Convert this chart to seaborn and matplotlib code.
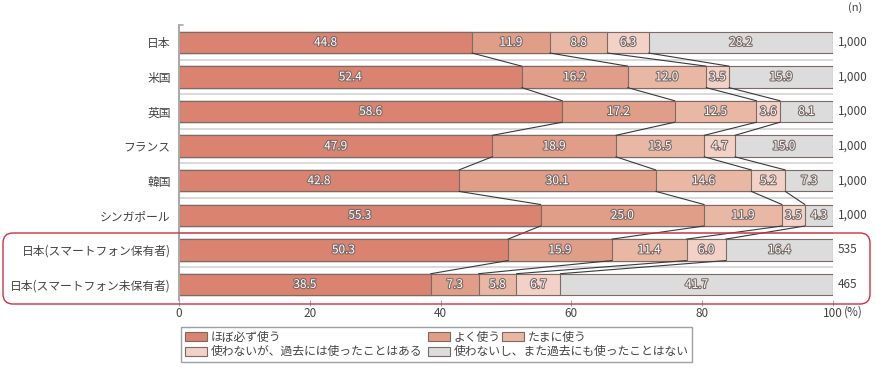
import numpy as np
import pandas as pd
import matplotlib
matplotlib.use("Agg")
import matplotlib.pyplot as plt
import matplotlib.patheffects as pe
from matplotlib.patches import FancyBboxPatch, Patch
import seaborn as sns

countries = ["日本", "米国", "英国", "フランス", "韓国", "シンガポール",
             "日本(スマートフォン保有者)", "日本(スマートフォン未保有者)"]
series = ["ほぼ必ず使う", "よく使う", "たまに使う",
          "使わないが、過去には使ったことはある", "使わないし、また過去にも使ったことはない"]
almost_always = [44.8, 52.4, 58.6, 47.9, 42.8, 55.3, 50.3, 38.5]
often = [11.9, 16.2, 17.2, 18.9, 30.1, 25.0, 15.9, 7.3]
sometimes = [8.8, 12.0, 12.5, 13.5, 14.6, 11.9, 11.4, 5.8]
used_before = [6.3, 3.5, 3.6, 4.7, 5.2, 3.5, 6.0, 6.7]
never = [28.2, 15.9, 8.1, 15.0, 7.3, 4.3, 16.4, 41.7]
n_values = ["1,000", "1,000", "1,000", "1,000", "1,000", "1,000", "535", "465"]
colors = ["#d98370", "#e09d88", "#e9b8a5", "#f2d2c6", "#dcdcdc"]

sns.set_style("white")
plt.rcParams["font.family"] = ["Noto Sans CJK JP", "DejaVu Sans"]

values = np.array([almost_always, often, sometimes, used_before, never]).T
cum = values.cumsum(axis=1)
df = pd.DataFrame(cum, columns=series)
df["country"] = countries

fig = plt.figure(figsize=(8.76, 3.67), dpi=100)
ax = fig.add_axes([179 / 876, 1 - 300 / 367, 654 / 876, 275 / 367])

bar_h = 0.62
edge = "#7d6a64"
for k in range(len(series) - 1, -1, -1):
    sns.barplot(data=df, x=series[k], y="country", color=colors[k], width=bar_h,
                edgecolor=edge, linewidth=0.8, saturation=1, ax=ax, orient="h")

# separators between rows
for i in range(len(countries) - 1):
    ax.axhline(i + 0.5, color="#d3d3d3", lw=1.2, zorder=0.5)

# series lines
for i in range(len(countries) - 1):
    for k in range(len(series) - 1):
        ax.plot([cum[i, k], cum[i + 1, k]], [i + bar_h / 2, i + 1 - bar_h / 2],
                color="#3a3a3a", lw=0.8, zorder=3)

# value labels
stroke = [pe.withStroke(linewidth=1.6, foreground="#7a6a66")]
for i in range(len(countries)):
    for k in range(len(series)):
        x = cum[i, k] - values[i, k] / 2
        ax.text(x, i, f"{values[i, k]:.1f}", ha="center", va="center",
                fontsize=8.5, color="white", path_effects=stroke, zorder=4)
    ax.text(1.0076, i, n_values[i], transform=ax.get_yaxis_transform(),
            ha="left", va="center", fontsize=8.5, color="#444444")
ax.text(1.034, 1.062, "(n)", transform=ax.transAxes, ha="center", va="center",
        fontsize=8, color="#444444")

ax.set_xlim(0, 100)
ax.set_ylim(7.45, -0.5)
ax.set_xticks([0, 20, 40, 60, 80, 100])
ax.set_xticklabels(["0", "20", "40", "60", "80", "100"])
ax.annotate("(%)", xy=(100, 0), xycoords=("data", "axes fraction"),
            xytext=(7.5, -8.5), textcoords="offset points", ha="left", va="center",
            fontsize=8.5, color="#444444")
ax.set_xlabel("")
ax.set_ylabel("")
for side in ["top", "right", "bottom"]:
    ax.spines[side].set_visible(False)
ax.spines["left"].set_color("#aaaaaa")
ax.spines["left"].set_linewidth(1.5)
ax.plot([0, 0.006], [1, 1], transform=ax.transAxes, color="#aaaaaa", lw=1.2,
        clip_on=False)
ax.tick_params(axis="y", length=0, pad=6, labelsize=8.5, labelcolor="#444444")
ax.tick_params(axis="x", length=4, width=0.8, color="#aaaaaa", pad=1,
               labelsize=8.5, labelcolor="#444444", bottom=True)

handles = [Patch(facecolor=c, edgecolor=edge, linewidth=0.8) for c in colors]
leg_kw = dict(loc="upper left", fontsize=8.5, handlelength=1.9, handleheight=0.8,
              handletextpad=0.3, labelspacing=0.15, borderpad=0.3, borderaxespad=0)
order = [0, 3, 1, 4]
leg = fig.legend([handles[j] for j in order], [series[j] for j in order], ncol=2,
                 bbox_to_anchor=(181 / 876, 1 - 327 / 367), frameon=True,
                 fancybox=False, edgecolor="#888888", columnspacing=0.5, **leg_kw)
leg2 = fig.legend([handles[2]], [series[2]], ncol=1,
                  bbox_to_anchor=(498 / 876, 1 - 327 / 367), frameon=False, **leg_kw)
for lg in (leg, leg2):
    for t in lg.get_texts():
        t.set_color("#444444")

box = FancyBboxPatch((0.03, 0.63), 8.67, 0.71, boxstyle="round,pad=0,rounding_size=0.1",
                     transform=fig.dpi_scale_trans, facecolor="none",
                     edgecolor="#d0303f", linewidth=1.0)
fig.patches.append(box)

fig.savefig("out.png", dpi=100)
